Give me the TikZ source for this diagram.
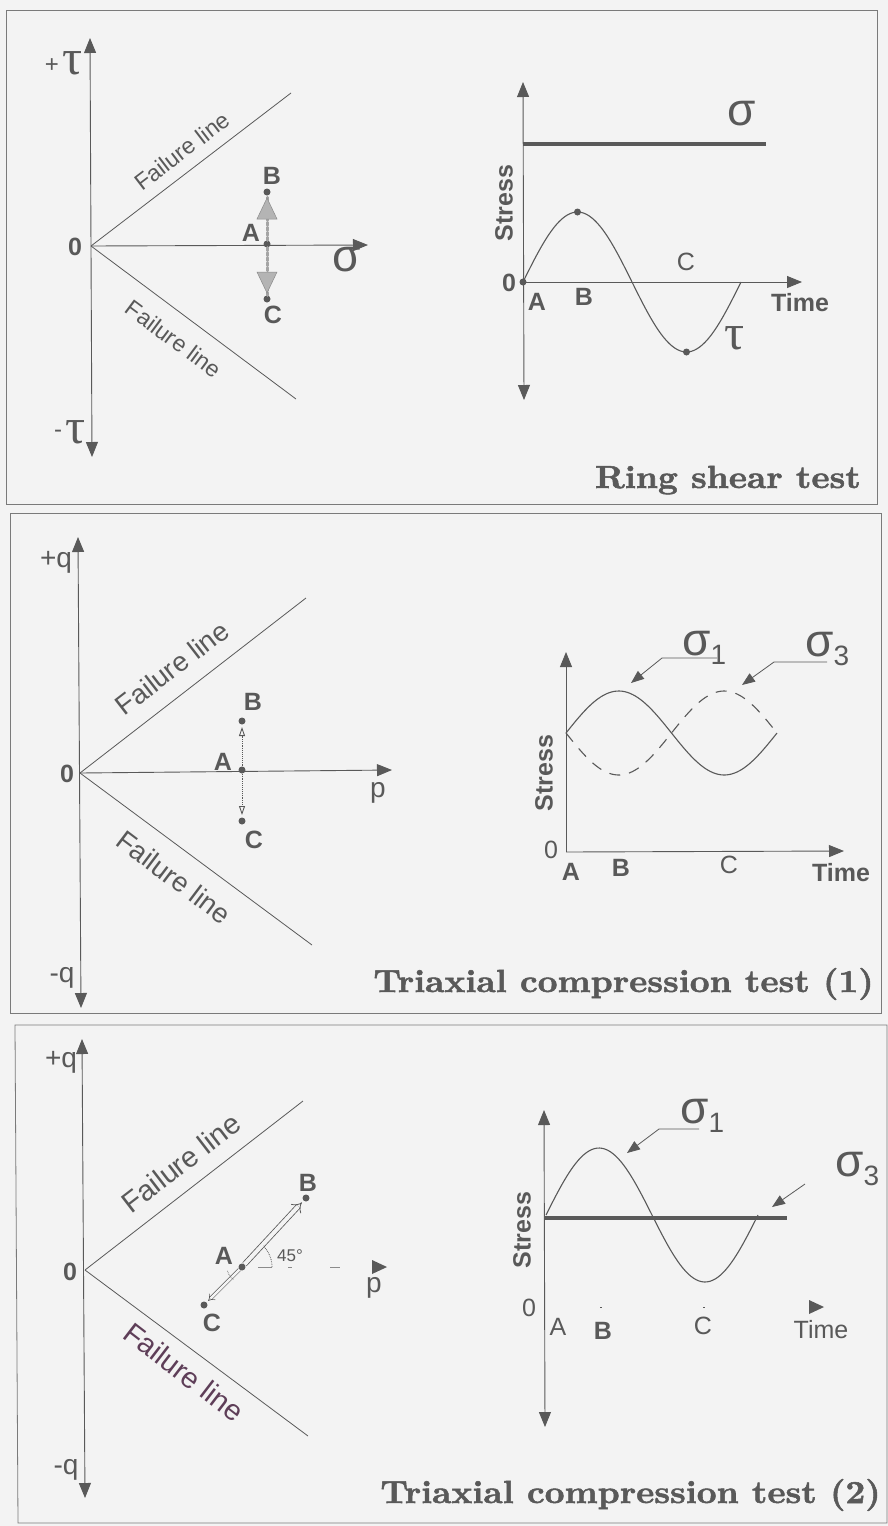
\documentclass[tikz,border=0pt]{standalone}
\usepackage{fontspec}
\newfontfamily\lab{Liberation Sans}
\newfontfamily\grkserif{Liberation Serif}
\newfontfamily\titlefont{lmroman10-bold.otf}[FakeBold=1.6,FakeStretch=1.08]
\usetikzlibrary{arrows.meta,calc}
\definecolor{ink}{HTML}{595959}
\definecolor{bgc}{HTML}{F3F3F3}
\definecolor{plum}{HTML}{5E3E58}
\begin{document}
\begin{tikzpicture}[x=1pt,y=-1pt,
  panel/.style={draw=ink!80,line width=0.8pt},
  thin/.style={draw=ink,line width=0.8pt},
  axis/.style={draw=ink,line width=0.9pt},
  bigtip/.style={-{Triangle[length=15pt,width=12pt]}},
  bothtip/.style={{Triangle[length=15pt,width=12pt]}-{Triangle[length=15pt,width=12pt]}},
  leader/.style={draw=ink,line width=0.8pt,-{Triangle[length=13pt,width=10pt]}},
  thick line/.style={draw=ink,line width=4.5pt},
  dot/.style={circle,fill=ink,inner sep=0pt,minimum size=7pt},
  lbl/.style={text=ink,inner sep=0pt,font=\lab\bfseries\fontsize{25}{25}\selectfont},
  lblr/.style={text=ink,inner sep=0pt,font=\lab\fontsize{25}{25}\selectfont},
  axlbl/.style={text=ink,inner sep=0pt,font=\lab\fontsize{28}{28}\selectfont},
  stresslbl/.style={text=ink,inner sep=0pt,rotate=90,font=\lab\bfseries\fontsize{25}{25}\selectfont},
  timelbl/.style={text=ink,inner sep=0pt,font=\lab\bfseries\fontsize{25}{25}\selectfont},
  faillight/.style={text=ink,inner sep=0pt,font=\lab\fontsize{23}{23}\selectfont},
  fail/.style={text=ink,inner sep=0pt,font=\lab\fontsize{27.5}{27.5}\selectfont},
  sig/.style={text=ink,inner sep=0pt,font=\lab\fontsize{46}{46}\selectfont},
  tau/.style={text=ink,inner sep=0pt,font=\grkserif\fontsize{50}{50}\selectfont},
  title/.style={text=ink,inner sep=0pt,anchor=base east,font=\titlefont\fontsize{32}{35}\selectfont},
]
\useasboundingbox (0,0) rectangle (888,1526);
\fill[bgc] (0,0) rectangle (888,1526);

%================ PANEL 1 =================
\draw[panel] (6,10) rectangle (877,504);
% left diagram
\coordinate (O1) at (91,246);
\coordinate (t1top) at (90,38);
\coordinate (t1bot) at (92,457);
\draw[axis,bothtip] (t1bot) -- (t1top);
\draw[axis,bigtip] (O1) -- (368,245);
\coordinate (F1u) at (291,93);
\coordinate (F1d) at (296,399);
\draw[thin] (O1) -- (F1u);
\draw[thin] (O1) -- (F1d);
\node[faillight,rotate=37.4] (fl1u) at (182,151) {Failure line};
\node[faillight,rotate=-36.7] (fl1d) at (174,339) {Failure line};
\node[text=ink,inner sep=0pt,font=\lab\fontsize{24}{24}\selectfont] (plus1) at (52,66) {+};
\node[tau] (tau1p) at (73,63) {τ};
\node[text=ink,inner sep=0pt,font=\lab\fontsize{24}{24}\selectfont] (minus1) at (58,434) {-};
\node[tau] (tau1m) at (76,432) {τ};
\node[lbl] (zero1) at (75,247) {0};
\node[sig] (sig1) at (347,260) {σ};
\node[dot] (A1) at (267,244) {};
\node[dot] (B1) at (267,192) {};
\node[dot] (C1) at (267,299) {};
\node[lbl] (A1l) at (251,233) {A};
\node[lbl] (B1l) at (272,176) {B};
\node[lbl] (C1l) at (273,315) {C};
\draw[draw=ink!55,line width=3pt,dotted,line cap=round] (A1) -- (B1);
\draw[draw=ink!55,line width=3pt,dotted,line cap=round] (A1) -- (C1);
\fill[ink!45,draw=ink!70,line width=0.5pt] (267,198) -- (257,219) -- (277,219) -- cycle;
\fill[ink!45,draw=ink!70,line width=0.5pt] (267,293) -- (257,272) -- (277,272) -- cycle;

% right diagram
\coordinate (S1top) at (523,82);
\coordinate (S1bot) at (524,400);
\coordinate (O1r) at (523,282);
\draw[axis,bothtip] (S1bot) -- (S1top);
\draw[axis,bigtip] (O1r) -- (802,282);
\draw[thick line] (523,144) -- (766,144);
\node[sig] (sigR1) at (742,114) {σ};
\node[stresslbl] (st1) at (504,203) {Stress};
\draw[ink,line width=1.1pt] plot[domain=523:741,samples=80,smooth] (\x,{282-70*sin(1.65138*(\x-523))});
\node[dot] (a1) at (523,282) {};
\node[dot] (b1) at (577.5,212) {};
\node[dot] (c1) at (686.5,352) {};
\node[lbl] (z1r) at (509,283) {0};
\node[lbl] (a1l) at (537,302) {A};
\node[lbl] (b1l) at (584,297) {B};
\node[lblr] (c1l) at (686,262) {C};
\node[timelbl] (time1) at (800,303) {Time};
\node[tau] (tau1r) at (735,338) {τ};
\node[title] (title1) at (861,488) {Ring shear test};

%================ PANEL 2 =================
\draw[panel] (10,513) rectangle (881,1013);
\coordinate (O2) at (80,773);
\draw[axis,bothtip] (81,1008) -- (78,537);
\draw[axis,bigtip] (O2) -- (392,770);
\draw[thin] (O2) -- (306,598);
\draw[thin] (O2) -- (312,945);
\node[fail,rotate=37.7] (fl2u) at (172,668) {Failure line};
\node[fail,rotate=-37] (fl2d) at (174,877) {Failure line};
\node[axlbl] (pq2) at (56,562) {+q};
\node[axlbl] (mq2) at (62,978) {-q};
\node[lbl] (zero2) at (67,774) {0};
\node[axlbl] (p2) at (378,793) {p};
\node[dot] (A2) at (242,770) {};
\node[dot] (B2) at (242,721) {};
\node[dot] (C2) at (242,821) {};
\node[lbl] (A2l) at (223,762) {A};
\node[lbl] (B2l) at (253,702) {B};
\node[lbl] (C2l) at (254,840) {C};
\draw[ink,line width=0.9pt,densely dotted,-{Triangle[open,length=9pt,width=6pt]}] (A2) -- (242,727);
\draw[ink,line width=0.9pt,densely dotted,-{Triangle[open,length=9pt,width=6pt]}] (A2) -- (242,815);

% right diagram
\coordinate (O2r) at (566,852);
\draw[axis,bigtip] (O2r) -- (566,652);
\draw[axis,bigtip] (O2r) -- (844,851);
\draw[ink,line width=1.1pt] plot[domain=566:777,samples=80,smooth] (\x,{733-42*sin(1.70616*(\x-566))});
\draw[ink,line width=1.1pt,dash pattern=on 11pt off 9pt] plot[domain=566:777,samples=80,smooth] (\x,{733+42*sin(1.70616*(\x-566))});
\node[stresslbl] (st2) at (544,773) {Stress};
\node[lblr] (z2r) at (551,850) {0};
\node[lbl] (a2l) at (571,872) {A};
\node[lbl] (b2l) at (621,868) {B};
\node[lblr] (c2l) at (729,865) {C};
\node[timelbl] (time2) at (841,873) {Time};
\node[sig,anchor=base west] (s21) at (682,655) {σ\raisebox{-9pt}{\fontsize{28}{28}\selectfont 1}};
\node[sig,anchor=base west] (s23) at (805,656) {σ\raisebox{-9pt}{\fontsize{28}{28}\selectfont 3}};
\coordinate (l21a) at (717,658);
\coordinate (l21b) at (662,658);
\coordinate (l21c) at (631,683);
\draw[leader] (l21a) -- (l21b) -- (l21c);
\coordinate (l23a) at (827,662);
\coordinate (l23b) at (774,662);
\coordinate (l23c) at (742,685);
\draw[leader] (l23a) -- (l23b) -- (l23c);
\node[title] (title2) at (874,992) {Triaxial compression test (1)};

%================ PANEL 3 =================
\draw[panel] (15,1025) -- (887,1025) -- (887,1523) -- (18,1523) -- cycle;
\coordinate (O3) at (85,1270);
\draw[axis,bothtip] (85,1498) -- (82,1039);
\draw[thin] (O3) -- (303,1101);
\draw[thin] (O3) -- (308,1436);
\node[fail,rotate=37.5,font=\lab\fontsize{29}{29}\selectfont] (fl3u) at (181,1163) {Failure line};
\node[fail,rotate=-37.5,text=plum,font=\lab\fontsize{29}{29}\selectfont] (fl3d) at (184,1372) {Failure line};
\node[axlbl] (pq3) at (61,1062) {+q};
\node[axlbl] (mq3) at (66,1470) {-q};
\node[lbl] (zero3) at (70,1272) {0};
\node[axlbl] (p3) at (374,1288) {p};
\fill[ink] (372,1260) -- (387,1267) -- (372,1274) -- cycle;
\draw[ink!70,line width=0.8pt] (258,1267) -- (272,1267);
\draw[ink!70,line width=0.8pt] (288,1267) -- (292,1267);
\draw[ink!70,line width=0.8pt] (330,1267) -- (340,1267);
\node[dot] (A3) at (242,1267) {};
\node[dot] (B3) at (306,1198) {};
\node[dot] (C3) at (204,1305) {};
\node[lbl] (A3l) at (224,1256) {A};
\node[lbl] (B3l) at (308,1183) {B};
\node[lbl] (C3l) at (212,1323) {C};
\draw[ink,line width=0.8pt,double=bgc,double distance=4pt,-{Implies[scale=1.6]}] (A3) -- ($(B3)!6pt!(A3)$);
\draw[ink,line width=0.6pt,double=bgc,double distance=2.5pt,-{Implies[scale=1.3]}] (A3) -- ($(C3)!6pt!(A3)$);
\draw[ink,line width=0.8pt,densely dotted] plot[domain=0:45,samples=12] ({242+30*cos(\x)},{1267-30*sin(\x)});
\draw[ink,line width=0.7pt,densely dotted] plot[domain=195:235,samples=8] ({242+15*cos(\x)},{1267-15*sin(\x)});
\node[text=ink,inner sep=0pt,font=\lab\fontsize{17}{17}\selectfont] (ang) at (290,1256) {45°};

% right diagram
\coordinate (S3top) at (544,1110);
\coordinate (S3bot) at (545,1427);
\draw[axis,bothtip] (S3bot) -- (S3top);
\draw[thick line] (544,1218) -- (787,1218);
\draw[ink,line width=1.1pt] plot[domain=546:758,samples=80,smooth] (\x,{1215-67*sin(1.69811*(\x-546))});
\fill[ink] (809,1300) -- (824,1307) -- (809,1314) -- cycle;
\draw[ink,line width=0.8pt] (600,1307) -- (602,1307);
\draw[ink,line width=0.8pt] (703,1307) -- (705,1307);
\node[stresslbl] (st3) at (522,1230) {Stress};
\node[lblr] (z3r) at (529,1308) {0};
\node[lblr] (a3l) at (558,1327) {A};
\node[lbl] (b3l) at (603,1331) {B};
\node[lblr] (c3l) at (703,1326) {C};
\node[lblr] (time3) at (821,1330) {Time};
\node[sig,anchor=base west] (s31) at (680,1123) {σ\raisebox{-9pt}{\fontsize{28}{28}\selectfont 1}};
\node[sig,anchor=base west] (s33) at (835,1176) {σ\raisebox{-9pt}{\fontsize{28}{28}\selectfont 3}};
\coordinate (l31a) at (699,1129);
\coordinate (l31b) at (659,1129);
\coordinate (l31c) at (627,1153);
\draw[leader] (l31a) -- (l31b) -- (l31c);
\coordinate (l33a) at (805,1184);
\coordinate (l33c) at (772,1207);
\draw[leader] (l33a) -- (l33c);
\node[title] (title3) at (881,1503) {Triaxial compression test (2)};
\end{tikzpicture}
\end{document}
